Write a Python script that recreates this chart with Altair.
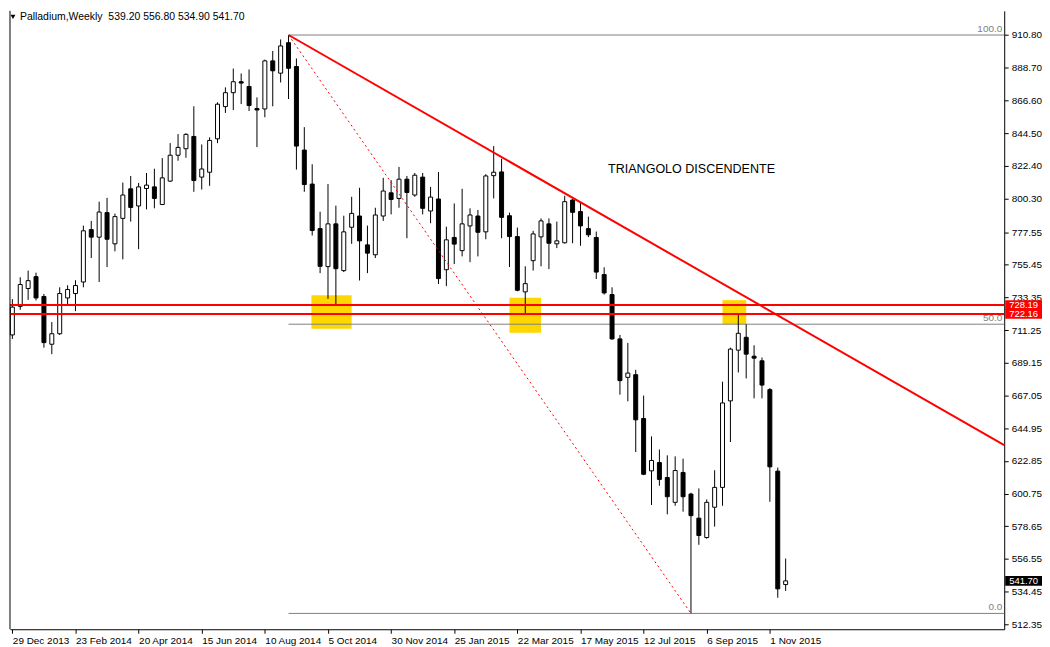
import altair as alt
import pandas as pd

# ---------------- data (weekly OHLC) ----------------
opens = [708.0, 727.3, 739.4, 747.4, 734.0, 701.7, 708.8, 733.0, 736.0, 743.8,
         779.2, 774.1, 790.7, 769.6, 786.8, 806.8, 795.2, 807.0, 808.1, 796.2,
         812.0, 829.5, 833.9, 842.2, 814.7, 818.0, 840.6, 862.4, 871.8, 879.2,
         876.0, 861.1, 860.8, 893.3, 885.0, 905.6, 889.5, 833.0, 810.0, 779.9,
         754.2, 783.1, 751.5, 780.8, 788.4, 768.9, 762.2, 788.4, 804.1, 800.3,
         813.3, 802.6, 814.7, 791.8, 799.9, 752.1, 773.9, 765.0, 781.7, 788.4,
         777.7, 815.7, 818.2, 788.6, 774.5, 737.1, 758.2, 774.3, 783.1, 769.6,
         770.3, 799.2, 791.4, 779.9, 773.9, 748.8, 735.3, 705.3, 679.3, 681.1,
         651.5, 616.1, 621.7, 611.6, 594.8, 615.0, 600.4, 584.1, 571.0, 591.5,
         604.9, 663.4, 697.7, 706.4, 693.6, 690.5, 671.0, 615.9, 539.2]
highs = [732.2, 747.0, 751.5, 750.1, 735.7, 716.7, 740.2, 741.6, 745.0, 781.9,
         785.1, 798.1, 800.7, 790.0, 811.0, 815.5, 810.8, 817.5, 820.4, 827.6,
         837.7, 843.8, 844.4, 862.6, 836.8, 841.6, 865.3, 875.4, 888.1, 884.8,
         887.5, 868.6, 894.2, 900.0, 907.8, 910.8, 894.9, 848.5, 823.4, 791.3,
         810.0, 795.4, 788.6, 801.4, 807.5, 781.9, 794.0, 814.2, 812.7, 821.6,
         815.5, 817.5, 817.5, 808.1, 818.2, 781.2, 796.9, 806.8, 793.6, 792.5,
         816.7, 835.7, 827.2, 790.7, 780.6, 754.4, 778.4, 786.8, 786.8, 784.6,
         802.1, 799.9, 797.4, 788.0, 777.9, 753.7, 740.2, 708.0, 702.6, 684.4,
         667.0, 639.4, 630.5, 626.6, 625.9, 624.3, 601.3, 604.2, 596.8, 616.5,
         676.4, 699.4, 722.6, 715.2, 701.0, 692.7, 672.1, 618.3, 556.8]
lows = [705.3, 725.0, 731.7, 731.3, 699.4, 695.0, 708.0, 727.7, 724.1, 740.2,
        760.0, 743.8, 753.9, 764.5, 759.1, 784.6, 766.0, 792.9, 793.6, 795.8,
        811.5, 825.8, 827.8, 804.8, 806.3, 808.8, 837.7, 858.1, 860.1, 864.1,
        859.4, 835.0, 855.2, 862.6, 878.7, 867.5, 819.8, 804.8, 775.2, 749.8,
        732.4, 728.0, 750.5, 769.6, 744.8, 749.8, 760.0, 785.1, 789.5, 794.0,
        773.4, 801.4, 789.5, 783.5, 742.4, 741.0, 755.9, 761.1, 757.2, 761.1,
        772.7, 800.3, 773.4, 753.9, 737.5, 722.3, 751.5, 754.4, 752.5, 766.7,
        769.8, 770.0, 768.3, 774.1, 745.8, 735.3, 704.8, 667.6, 663.1, 628.8,
        613.2, 593.0, 606.0, 586.7, 592.5, 588.5, 519.7, 566.1, 570.2, 578.4,
        592.5, 635.6, 682.6, 678.6, 665.1, 665.1, 595.2, 530.3, 534.9]
closes = [726.8, 742.1, 744.7, 733.0, 702.8, 708.8, 736.0, 738.7, 741.4, 778.4,
          774.1, 791.1, 772.7, 788.0, 802.6, 794.2, 808.1, 809.3, 800.3, 814.2,
          829.5, 834.8, 843.6, 812.4, 820.2, 839.5, 864.0, 871.8, 879.2, 878.3,
          863.1, 860.1, 893.3, 886.6, 903.4, 888.3, 835.7, 809.7, 778.6, 754.4,
          783.1, 752.8, 777.7, 790.2, 771.6, 763.3, 789.1, 805.3, 799.6, 813.3,
          804.3, 816.0, 793.6, 801.2, 746.1, 772.3, 769.4, 783.1, 789.1, 777.4,
          815.5, 818.0, 787.5, 774.5, 738.2, 742.7, 776.3, 785.1, 770.0, 771.6,
          798.1, 790.9, 781.7, 775.7, 750.5, 736.4, 705.3, 677.1, 682.2, 650.6,
          613.8, 623.1, 610.3, 598.6, 616.3, 598.6, 585.8, 572.4, 594.8, 604.9,
          662.0, 698.4, 709.1, 695.0, 692.3, 674.1, 618.8, 536.3, 541.7]

x_labels = ["29 Dec 2013", "23 Feb 2014", "20 Apr 2014", "15 Jun 2014", "10 Aug 2014",
            "5 Oct 2014", "30 Nov 2014", "25 Jan 2015", "22 Mar 2015", "17 May 2015",
            "12 Jul 2015", "6 Sep 2015", "1 Nov 2015"]
x_tick_idx = [8 * k for k in range(len(x_labels))]
y_ticks = [910.80, 888.70, 866.60, 844.50, 822.40, 800.30, 777.55, 755.45, 733.35,
           711.25, 689.15, 667.05, 644.95, 622.85, 600.75, 578.65, 556.55, 534.45, 512.35]

hline_prices = [728.19, 722.16]
hline_labels = ["728.19", "722.16"]
last_price = [541.70]
last_label = ["541.70"]

fib_levels = [910.80, 715.25, 519.70]
fib_names = ["100.0", "50.0", "0.0"]
fib_start = 35

trend_i = [35, 125.7]
trend_p = [910.8, 633.5]
dash_i = [35, 86]
dash_p = [910.8, 519.7]

zone_i0 = [37.9, 63.0, 90.0]
zone_i1 = [43.0, 67.0, 93.0]
zone_lo = [712.2, 709.5, 715.2]
zone_hi = [734.9, 733.1, 731.5]

note_i = [75.5]
note_p = [820.2]
note_text = ["TRIANGOLO DISCENDENTE"]

header_text = "Palladium,Weekly\u00a0\u00a0539.20 556.80 534.90 541.70"

# ---------------- layout ----------------
X_MIN, X_MAX = -0.3, 125.7
Y_MIN, Y_MAX = 508.99, 927.14
W, H = 1000, 622
FONT = "Liberation Sans"

xs = alt.Scale(domain=[X_MIN, X_MAX], nice=False, zero=False, padding=0)
ys = alt.Scale(domain=[Y_MIN, Y_MAX], nice=False, zero=False, padding=0)

label_expr = "[" + ",".join("'%s'" % s for s in x_labels) + "][round(datum.value/8)]"
x_axis = alt.Axis(values=x_tick_idx, labelExpr=label_expr, labelAlign="left",
                  labelPadding=2, tickSize=4, domainColor="black", tickColor="black",
                  labelColor="black", labelFont=FONT, labelFontSize=10, grid=False,
                  title=None, labelOverlap=False, labelFlush=False, labelBound=False)
y_axis = alt.Axis(orient="right", values=y_ticks, format=".2f", tickSize=4,
                  labelPadding=3, domainColor="black", tickColor="black",
                  labelColor="black", labelFont=FONT, labelFontSize=10, grid=False,
                  title=None, labelOverlap=False, labelFlush=False, labelBound=False)


def X(field):
    return alt.X(field, scale=xs, axis=x_axis)


def Y(field):
    return alt.Y(field, scale=ys, axis=y_axis)


candles = pd.DataFrame({"i": list(range(len(opens))), "o": opens, "h": highs,
                        "l": lows, "c": closes})
candles["dir"] = ["up" if c >= o else "down" for o, c in zip(opens, closes)]

zones = pd.DataFrame({"i0": zone_i0, "i1": zone_i1, "lo": zone_lo, "hi": zone_hi})
fibs = pd.DataFrame({"p": fib_levels, "name": fib_names,
                     "i0": [fib_start] * 3, "i1": [X_MAX] * 3})
trend = pd.DataFrame({"i": trend_i, "p": trend_p})
dash = pd.DataFrame({"i": dash_i, "p": dash_p})
hl = pd.DataFrame({"p": hline_prices, "label": hline_labels})
boxes = pd.DataFrame({"p": hline_prices + last_price,
                      "label": hline_labels + last_label,
                      "bg": ["#ff0000", "#ff0000", "#000000"]})
note = pd.DataFrame({"i": note_i, "p": note_p, "t": note_text})
border = pd.DataFrame({"i": [X_MIN]})
header = pd.DataFrame({"t": [header_text]})

zone_layer = alt.Chart(zones).mark_rect(color="#ffd700").encode(
    x=X("i0:Q"), x2="i1:Q", y=Y("lo:Q"), y2="hi:Q")

fib_lines = alt.Chart(fibs).mark_rule(color="#808080", strokeWidth=1).encode(
    x=X("i0:Q"), x2="i1:Q", y=Y("p:Q"))
fib_text = alt.Chart(fibs).mark_text(align="right", baseline="bottom", dx=-2, dy=-1,
                                     color="#808080", font=FONT, fontSize=10).encode(
    x=X("i1:Q"), y=Y("p:Q"), text="name:N")

wicks = alt.Chart(candles).mark_rule(color="black", strokeWidth=1).encode(
    x=X("i:Q"), y=Y("l:Q"), y2="h:Q")
bodies = alt.Chart(candles).mark_bar(size=4, stroke="black", strokeWidth=1).encode(
    x=X("i:Q"), y=Y("o:Q"), y2="c:Q",
    fill=alt.Fill("dir:N", scale=alt.Scale(domain=["up", "down"],
                                           range=["#ffffff", "#000000"]), legend=None))

hlines = alt.Chart(hl).mark_rule(color="#ff0000", strokeWidth=2).encode(y=Y("p:Q"))
trend_line = alt.Chart(trend).mark_line(color="#ff0000", strokeWidth=2).encode(
    x=X("i:Q"), y=Y("p:Q"))
dash_line = alt.Chart(dash).mark_line(color="#ff0000", strokeWidth=1,
                                      strokeDash=[2, 3]).encode(x=X("i:Q"), y=Y("p:Q"))

note_layer = alt.Chart(note).mark_text(align="left", baseline="middle", font=FONT,
                                       fontSize=12.6, color="black").encode(
    x=X("i:Q"), y=Y("p:Q"), text="t:N")

border_layer = alt.Chart(border).mark_rule(color="black", strokeWidth=1).encode(x=X("i:Q"))

box_rects = alt.Chart(boxes).transform_calculate(
    y0="datum.p - 3.3", y1="datum.p + 3.3").mark_rect().encode(
    x=alt.value(W + 1), x2=alt.value(W + 38), y=Y("y0:Q"), y2="y1:Q",
    color=alt.Color("bg:N", scale=None))
box_text = alt.Chart(boxes).mark_text(align="left", baseline="middle", color="white",
                                      font=FONT, fontSize=9.5).encode(
    x=alt.value(W + 5), y=Y("p:Q"), text="label:N")

head_tri = alt.Chart(header).mark_point(shape="triangle-down", filled=True,
                                        color="black", size=24, opacity=1).encode(
    x=alt.value(3), y=alt.value(6))
head_text = alt.Chart(header).mark_text(align="left", baseline="middle", font=FONT,
                                        fontSize=10.5, color="black").encode(
    x=alt.value(10), y=alt.value(6), text="t:N")

chart = alt.layer(
    zone_layer, fib_lines, fib_text, wicks, bodies, hlines, trend_line, dash_line,
    note_layer, border_layer, box_rects, box_text, head_tri, head_text
).properties(
    width=W, height=H, padding={"left": 1, "top": 0, "right": 0, "bottom": 0},
    background="white"
).configure_view(stroke=None)

chart.save("out.html", embed_options={"renderer": "svg", "actions": False})
